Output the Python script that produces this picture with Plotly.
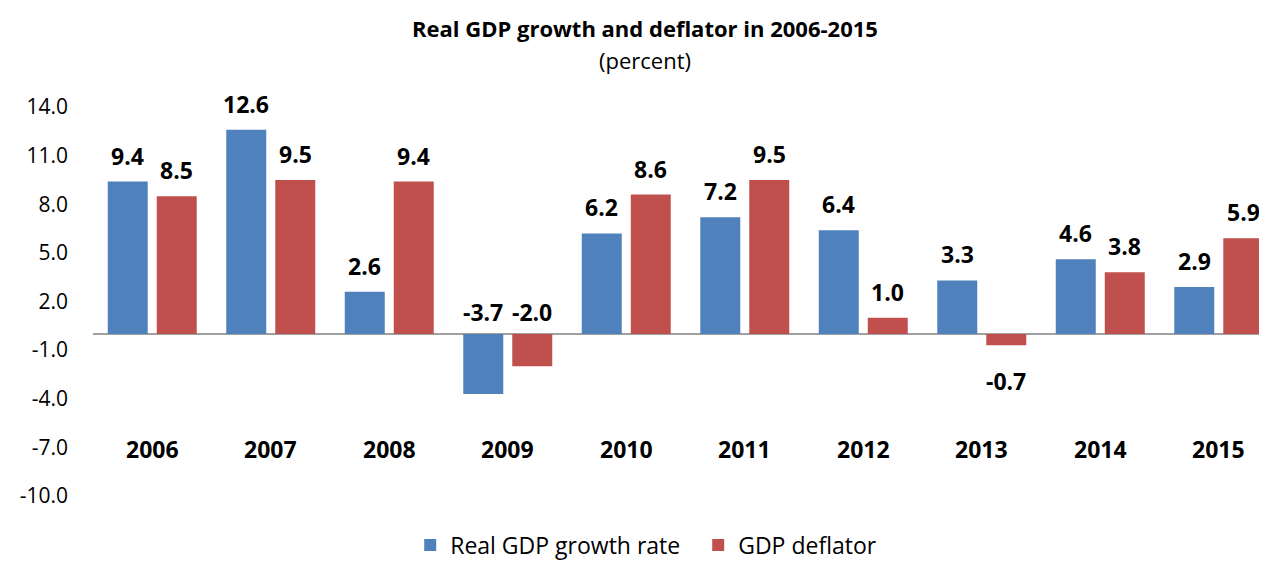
import plotly.graph_objects as go

years = ["2006", "2007", "2008", "2009", "2010", "2011", "2012", "2013", "2014", "2015"]
real_gdp = [9.4, 12.6, 2.6, -3.7, 6.2, 7.2, 6.4, 3.3, 4.6, 2.9]
deflator = [8.5, 9.5, 9.4, -2.0, 8.6, 9.5, 1.0, -0.7, 3.8, 5.9]
y_ticks = [-10, -7, -4, -1, 2, 5, 8, 11, 14]

BLUE = "#4F81BD"
RED = "#C0504D"
FONT = "Open Sans"

fig = go.Figure()
fig.add_trace(go.Bar(x=list(range(len(years))), y=real_gdp, name="Real GDP growth rate",
                     marker=dict(color=BLUE, line=dict(width=0))))
fig.add_trace(go.Bar(x=list(range(len(years))), y=deflator, name="GDP deflator",
                     marker=dict(color=RED, line=dict(width=0))))

slot = 0.827 / 2
offsets = [-slot / 2, slot / 2]
annotations = []
for si, series in enumerate([real_gdp, deflator]):
    for i, v in enumerate(series):
        xpos = i + offsets[si]
        if v >= 0:
            annotations.append(dict(x=xpos, y=v, text=f"{v:.1f}", yanchor="bottom", yshift=8,
                                    showarrow=False))
        elif v <= -1:
            annotations.append(dict(x=xpos, y=0, text=f"{v:.1f}", yanchor="bottom", yshift=4,
                                    showarrow=False))
        else:
            annotations.append(dict(x=xpos, y=v, text=f"{v:.1f}", yanchor="top", yshift=-18,
                                    showarrow=False))
for a in annotations:
    a.update(xref="x", yref="y", font=dict(family=FONT, size=23, color="#000000", weight="bold"))

for i, yr in enumerate(years):
    annotations.append(dict(x=i, y=-7.1, xref="x", yref="y", text=yr, showarrow=False,
                            yanchor="middle",
                            font=dict(family=FONT, size=23, color="#000000", weight="bold")))

annotations.append(dict(x=0.470, y=1, xref="paper", yref="paper", yshift=79, yanchor="middle",
                        text="<b>Real GDP growth and deflator in 2006-2015</b>", showarrow=False,
                        font=dict(family=FONT, size=22, color="#000000")))
annotations.append(dict(x=0.470, y=1, xref="paper", yref="paper", yshift=47, yanchor="middle",
                        text="(percent)", showarrow=False,
                        font=dict(family=FONT, size=22, color="#000000")))

fig.update_layout(
    width=1259, height=553,
    margin=dict(l=85, r=0, t=99, b=65, autoexpand=False),
    paper_bgcolor="white", plot_bgcolor="white",
    barmode="group", bargap=0.173, bargroupgap=0.184,
    font=dict(family=FONT, size=21, color="#000000"),
    annotations=annotations,
    showlegend=True,
    legend=dict(orientation="h", x=0.5155, xanchor="center", y=-0.126, yanchor="middle",
                font=dict(family=FONT, size=23, color="#000000"),
                entrywidth=243, entrywidthmode="pixels",
                itemsizing="constant", bgcolor="rgba(0,0,0,0)"),
    xaxis=dict(range=[-0.5, 9.407], showticklabels=False, showgrid=False, zeroline=False,
               showline=False, ticks="", automargin=False),
    yaxis=dict(range=[-10, 14], tickvals=y_ticks, ticktext=[f"{t:.1f}" for t in y_ticks],
               showgrid=False, zeroline=True, zerolinecolor="#A0A0A0", zerolinewidth=2,
               showline=False, ticks="", ticklabelstandoff=24, automargin=False,
               tickfont=dict(family=FONT, size=21, color="#000000")),
)

fig.write_html("out.html")
